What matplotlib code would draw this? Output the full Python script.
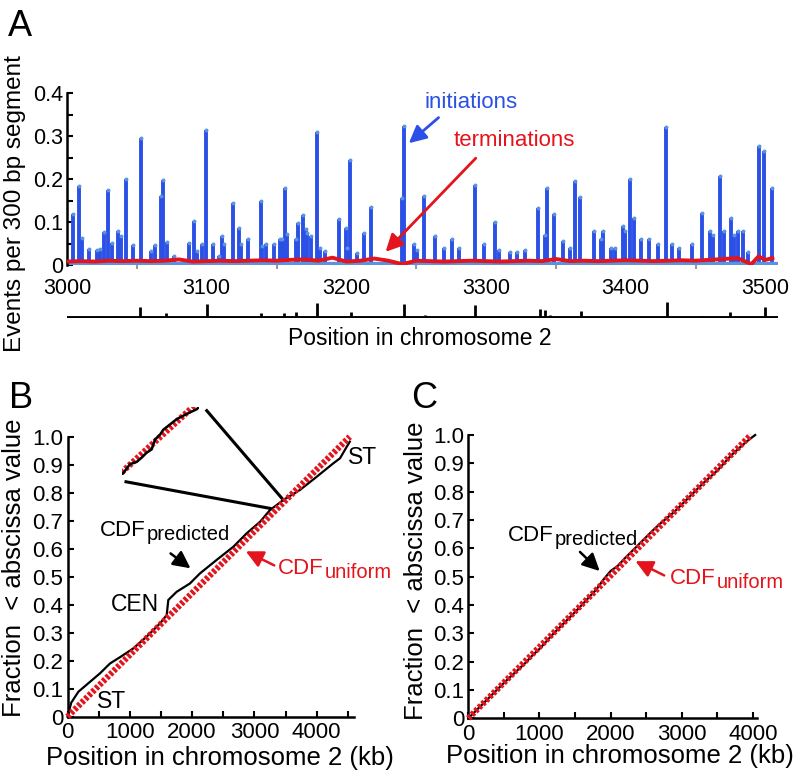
import matplotlib
matplotlib.use("Agg")
import matplotlib.pyplot as plt
import numpy as np

plt.rcParams['font.family'] = ['Liberation Sans', 'DejaVu Sans']

# ---------------- panel A data (kb, events per 300 bp) ----------------
init_pos = [3004.1, 3008.8, 3010.5, 3015.7, 3021.2, 3023.6, 3026.7, 3029.3, 3032.4, 3036.5,
            3038.6, 3042.2, 3047.2, 3052.9, 3060.1, 3062.9, 3067.0, 3068.9, 3071.3, 3076.5,
            3087.3, 3090.8, 3092.8, 3096.4, 3099.4, 3104.7, 3108.5, 3110.9, 3112.3, 3119.0,
            3123.0, 3124.7, 3129.7, 3139.0, 3139.5, 3142.8, 3147.9, 3152.6, 3153.8, 3155.9,
            3157.4, 3163.8, 3165.7, 3168.8, 3171.0, 3171.9, 3175.0, 3178.8, 3181.2, 3184.8,
            3194.4, 3199.6, 3200.5, 3202.9, 3207.4, 3212.7, 3217.7, 3239.6, 3241.1, 3248.7,
            3250.6, 3255.4, 3263.4, 3269.9, 3275.7, 3280.8, 3291.8, 3298.6, 3306.6, 3309.5,
            3316.8, 3322.2, 3327.7, 3337.5, 3342.2, 3343.8, 3348.4, 3354.9, 3360.4, 3363.4,
            3367.0, 3377.5, 3382.2, 3384.0, 3389.5, 3392.0, 3397.8, 3399.3, 3403.2, 3405.8,
            3411.2, 3416.7, 3422.9, 3428.5, 3433.0, 3437.8, 3447.6, 3454.9, 3460.3, 3462.5,
            3467.6, 3470.5, 3475.5, 3477.8, 3480.7, 3484.3, 3487.6, 3495.5, 3498.8, 3504.5]
init_val = [0.118, 0.184, 0.063, 0.037, 0.036, 0.037, 0.076, 0.175, 0.052, 0.078,
            0.068, 0.200, 0.047, 0.295, 0.033, 0.047, 0.160, 0.198, 0.053, 0.020,
            0.051, 0.103, 0.033, 0.050, 0.314, 0.049, 0.020, 0.068, 0.050, 0.144,
            0.086, 0.050, 0.060, 0.150, 0.044, 0.050, 0.050, 0.060, 0.060, 0.180,
            0.073, 0.060, 0.097, 0.116, 0.083, 0.075, 0.068, 0.310, 0.040, 0.033,
            0.107, 0.085, 0.040, 0.245, 0.028, 0.075, 0.134, 0.156, 0.324, 0.050,
            0.035, 0.160, 0.067, 0.040, 0.060, 0.040, 0.186, 0.050, 0.100, 0.036,
            0.030, 0.030, 0.035, 0.133, 0.070, 0.180, 0.118, 0.055, 0.040, 0.196,
            0.158, 0.080, 0.060, 0.080, 0.040, 0.040, 0.090, 0.080, 0.200, 0.110,
            0.060, 0.060, 0.050, 0.320, 0.050, 0.040, 0.050, 0.120, 0.080, 0.070,
            0.208, 0.080, 0.110, 0.070, 0.080, 0.080, 0.030, 0.277, 0.266, 0.180]

term_pos = [3000, 3010, 3020, 3030, 3040, 3050, 3060, 3070, 3080, 3090,
            3100, 3110, 3120, 3130, 3140, 3150, 3160, 3170, 3180, 3190,
            3200, 3210, 3220, 3230, 3240, 3250, 3260, 3270, 3280, 3290,
            3300, 3310, 3320, 3330, 3340, 3350, 3360, 3370, 3380, 3390,
            3400, 3410, 3420, 3430, 3440, 3450, 3460, 3470, 3480, 3490,
            3495, 3500, 3505]
term_val = [0.008, 0.009, 0.008, 0.010, 0.009, 0.010, 0.009, 0.010, 0.013, 0.008,
            0.009, 0.010, 0.009, 0.010, 0.011, 0.010, 0.012, 0.013, 0.010, 0.017,
            0.008, 0.010, 0.015, 0.010, 0.002, 0.010, 0.009, 0.008, 0.009, 0.010,
            0.009, 0.008, 0.009, 0.010, 0.009, 0.014, 0.009, 0.010, 0.009, 0.010,
            0.011, 0.010, 0.009, 0.010, 0.011, 0.010, 0.012, 0.014, 0.016, 0.002,
            0.020, 0.012, 0.016]

# origin track under panel A (position, relative height)
ori_pos = [3020.6, 3034.4, 3052.6, 3070.7, 3099.9, 3125.3, 3138.7, 3155.1, 3164.2, 3178.7,
           3203.0, 3241.2, 3256.1, 3292.1, 3309.5, 3338.9, 3342.2, 3345.9, 3367.7, 3404.0,
           3429.8, 3454.9, 3474.8, 3499.6]
ori_h = [0.12, 0.12, 0.70, 0.28, 0.85, 0.12, 0.28, 0.28, 0.35, 0.90,
         0.35, 0.85, 0.20, 0.80, 0.12, 0.55, 0.50, 0.20, 0.42, 0.12,
         1.00, 0.12, 0.35, 0.70]

a_xticks = [3000, 3100, 3200, 3300, 3400, 3500]
a_yticks = [0, 0.1, 0.2, 0.3, 0.4]
a_ylabels = ['0', '0.1', '0.2', '0.3', '0.4']

# ---------------- panel B data (kb, fraction) ----------------
b_pos = [0, 60, 174, 522, 682, 860, 1056, 1271, 1485, 1592, 1618, 1752, 1966, 2127,
         2394, 2662, 2876, 3090, 3250, 3464, 3732, 4000, 4266, 4374, 4481, 4530]
b_frac = [0.0, 0.050, 0.089, 0.155, 0.190, 0.215, 0.244, 0.286, 0.333, 0.363, 0.417, 0.446,
          0.476, 0.512, 0.560, 0.607, 0.655, 0.696, 0.738, 0.774, 0.810, 0.857, 0.905,
          0.923, 0.964, 0.982]
b_len = 4530
inset_t = [0, 0.043, 0.107, 0.193, 0.258, 0.322, 0.386, 0.429, 0.494, 0.536, 0.601,
           0.708, 0.837, 0.966, 1.0]
inset_v = [0, 0.0625, 0.159, 0.192, 0.255, 0.327, 0.375, 0.519, 0.591, 0.663, 0.721,
           0.817, 0.894, 0.962, 1.0]

# ---------------- panel C data ----------------
c_pos = [0, 200, 500, 800, 900, 1000, 1200, 1500, 1800, 1900, 2000, 2100, 2200, 2400,
         2600, 2700, 2900, 3100, 3300, 3500, 3700, 3900, 4030]
c_frac = [0.0, 0.050, 0.125, 0.195, 0.222, 0.245, 0.300, 0.375, 0.455, 0.490, 0.520,
          0.538, 0.565, 0.615, 0.665, 0.688, 0.730, 0.780, 0.830, 0.875, 0.930, 0.975, 1.0]
c_len = 3970

cdf_xticks = [0, 1000, 2000, 3000, 4000]
cdf_yticks = [0, 0.1, 0.2, 0.3, 0.4, 0.5, 0.6, 0.7, 0.8, 0.9, 1.0]
cdf_ylabels = ['0', '0.1', '0.2', '0.3', '0.4', '0.5', '0.6', '0.7', '0.8', '0.9', '1.0']

BLUE = '#2b50e6'
LBLUE = '#5b93e0'
RED = '#e3141b'
W, H = 796, 773


def fbox(x0, y0, x1, y1):
    # pixel box (top-left origin) -> figure fraction rect
    return [x0 / W, 1 - y1 / H, (x1 - x0) / W, (y1 - y0) / H]


def cdf_label(ax, x, y, sub, color='black'):
    # "CDF" with a large lowered subscript
    t = ax.text(x, y, 'CDF', fontsize=16, ha='left', va='center', color=color)
    ax.annotate(sub, xy=(1, 0), xycoords=t, xytext=(0.5, -2), textcoords='offset points',
                fontsize=14.5, ha='left', va='bottom', color=color)


fig = plt.figure(figsize=(7.96, 7.73), dpi=100)

# ---------------- A ----------------
axA = fig.add_axes(fbox(67, 93, 778, 265))
axA.vlines(init_pos, 0, init_val, color=BLUE, lw=2.8, zorder=2)
axA.scatter(init_pos, init_val, s=8, color=LBLUE, zorder=3, lw=0)
axA.axhline(0, color=LBLUE, lw=4.5, zorder=2)
axA.plot(term_pos, term_val, color=RED, lw=2.8, zorder=4)
axA.set_xlim(3000, 3509)
axA.set_ylim(0, 0.4)
for s in ['top', 'right', 'bottom']:
    axA.spines[s].set_visible(False)
axA.spines['left'].set_linewidth(1.8)
axA.set_yticks(a_yticks)
axA.set_yticklabels(a_ylabels)
axA.set_yticks([0.05, 0.15, 0.25, 0.35], minor=True)
axA.tick_params(axis='y', which='both', direction='in', length=4, width=1.5, labelsize=15.5, pad=3)
axA.set_xticks(a_xticks)
axA.set_xticks([3050, 3150, 3250, 3350, 3450], minor=True)
axA.tick_params(axis='x', which='major', length=0, labelsize=15.5, pad=9)
axA.tick_params(axis='x', which='minor', length=3, color='#999999', width=1.5)
axA.set_ylabel('Events per 300 bp segment', fontsize=17.5)
axA.yaxis.set_label_coords(-0.073, 0.36)
axA.yaxis.label.set_va('center')

axA.annotate('', xy=(3243.2, 0.279), xytext=(3267.5, 0.347),
             arrowprops=dict(arrowstyle='-|>', color=BLUE, lw=2, mutation_scale=26))
axA.text(3289, 0.378, 'initiations', color=BLUE, fontsize=16, ha='center', va='center')
axA.annotate('', xy=(3226.7, 0.026), xytext=(3294, 0.253),
             arrowprops=dict(arrowstyle='-|>', color=RED, lw=2, mutation_scale=26))
axA.text(3320.5, 0.289, 'terminations', color=RED, fontsize=16, ha='center', va='center')

# origin track
axT = fig.add_axes(fbox(67, 301, 778, 318))
axT.vlines(ori_pos, 0, ori_h, color='black', lw=2)
axT.axhline(0, color='black', lw=2.8)
axT.set_xlim(3000, 3509)
axT.set_ylim(0, 1.05)
axT.axis('off')
fig.text(420 / W, 1 - 338 / H, 'Position in chromosome 2', fontsize=16.5, ha='center', va='center')


def cdf_axes(rect, xmax, xl, yl):
    ax = fig.add_axes(rect)
    ax.set_xlim(0, xmax)
    ax.set_ylim(0, 1.0)
    for s in ['top', 'right']:
        ax.spines[s].set_visible(False)
    for s in ['left', 'bottom']:
        ax.spines[s].set_linewidth(1.8)
    ax.set_xticks(cdf_xticks)
    ax.set_xticks([500, 1500, 2500, 3500, 4500][: 5 if xmax > 4500 else 4], minor=True)
    ax.set_yticks(cdf_yticks)
    ax.set_yticklabels(cdf_ylabels)
    ax.tick_params(which='both', direction='in', length=4, width=1.5)
    ax.tick_params(axis='y', labelsize=16, pad=3)
    ax.tick_params(axis='x', labelsize=16, pad=4)
    ax.set_xlabel('Position in chromosome 2 (kb)', fontsize=18.5)
    ax.xaxis.set_label_coords(*xl)
    ax.xaxis.label.set_va('center')
    ax.set_ylabel('Fraction  < abscissa value', fontsize=18.5)
    ax.yaxis.set_label_coords(*yl)
    ax.yaxis.label.set_va('center')
    return ax


# ---------------- B ----------------
axB = cdf_axes(fbox(67.5, 436.7, 353.5, 716.7), 4590, (0.533, -0.147), (-0.187, 0.531))
axB.plot(b_pos, b_frac, color='black', lw=1.6, zorder=3, clip_on=False)
axB.plot([0, b_len], [0, 1], color=RED, lw=4.5, ls=(0, (0.5, 0.3)), zorder=4, clip_on=False)
axB.annotate('', xy=(2010, 0.524), xytext=(1618, 0.589),
             arrowprops=dict(arrowstyle='-|>', color='black', lw=1.8, mutation_scale=26))
cdf_label(axB, 522, 0.665, 'predicted')
axB.annotate('', xy=(2822, 0.595), xytext=(3358, 0.536),
             arrowprops=dict(arrowstyle='-|>', color=RED, lw=1.8, mutation_scale=26))
cdf_label(axB, 3379, 0.53, 'uniform', RED)
axB.text(1083, 0.399, 'CEN', fontsize=16.5, ha='center', va='center')
axB.text(4743, 0.924, 'ST', fontsize=16.5, ha='center', va='center', clip_on=False)
axB.text(714, 0.053, 'ST', fontsize=16.5, ha='center', va='center')
# zoom lines to the inset
axB.plot([2235, 3464], [1.093, 0.774], color='black', lw=2.2, clip_on=False)
axB.plot([939, 3250], [0.839, 0.744], color='black', lw=2.2, clip_on=False)

axI = fig.add_axes(fbox(121.7, 406.7, 199.3, 475))
axI.plot(inset_t, inset_v, color='black', lw=1.8, zorder=3)
axI.plot([0, 0.94], [0.04, 1.02], color=RED, lw=4.5, ls=(0, (0.5, 0.3)), zorder=2)
axI.set_xlim(0, 1)
axI.set_ylim(0, 1)
axI.axis('off')

# ---------------- C ----------------
axC = cdf_axes(fbox(468.3, 435, 757.3, 718.3), 4060, (0.525, -0.133), (-0.181, 0.52))
axC.plot(c_pos, c_frac, color='black', lw=1.6, zorder=3, clip_on=False)
axC.plot([0, c_len], [0, 1], color=RED, lw=4.5, ls=(0, (0.5, 0.3)), zorder=4, clip_on=False)
axC.annotate('', xy=(1874, 0.513), xytext=(1541, 0.594),
             arrowprops=dict(arrowstyle='-|>', color='black', lw=1.8, mutation_scale=26))
cdf_label(axC, 558, 0.646, 'predicted')
axC.annotate('', xy=(2313, 0.559), xytext=(2787, 0.5),
             arrowprops=dict(arrowstyle='-|>', color=RED, lw=1.8, mutation_scale=26))
cdf_label(axC, 2833, 0.493, 'uniform', RED)

# panel letters
for lab, x, y in [('A', 20, 27), ('B', 21, 398), ('C', 424, 398)]:
    fig.text(x / W, 1 - y / H, lab, fontsize=26, ha='center', va='center')

fig.savefig('out.png', dpi=100)
